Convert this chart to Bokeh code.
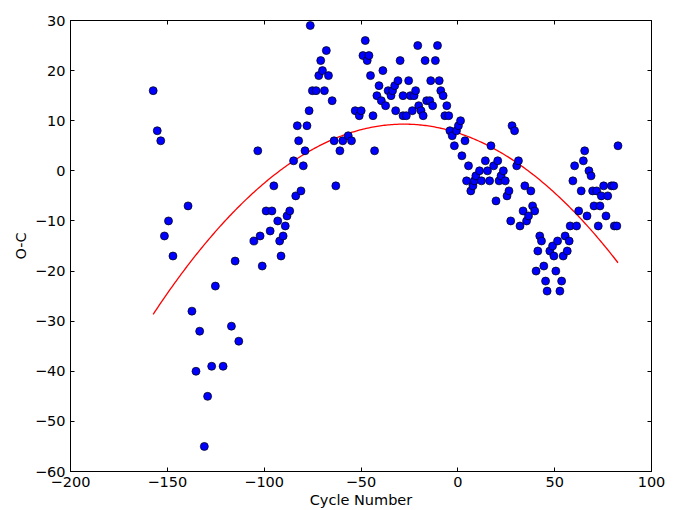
import numpy as np
from bokeh.plotting import figure
from bokeh.models import LinearAxis, Range1d, FixedTicker, CustomJSTickFormatter
from bokeh.embed import file_html
from bokeh.resources import INLINE

# ---- data ----
cycle = [-157.3, -155.2, -153.4, -151.5, -149.4, -147.1, -139.3, -137.3, -135.2, -133.3,
         -130.9, -129.2, -127.1, -125.2, -121.2, -116.9, -115.0, -113.1, -105.3, -103.3,
         -102.1, -101.0, -99.0, -96.9, -96.0, -95.0, -93.0, -92.0, -91.3, -90.2,
         -89.1, -88.2, -86.8, -84.8, -83.7, -82.9, -82.2, -81.0, -79.8, -78.9,
         -77.9, -76.8, -76.2, -75.1, -73.2, -71.8, -70.8, -69.9, -68.9, -67.9,
         -66.8, -64.9, -63.9, -63.0, -60.9, -59.4, -56.6, -54.9, -53.0, -50.9,
         -49.9, -49.0, -47.8, -46.8, -45.9, -45.1, -43.8, -43.0, -41.8, -40.7,
         -39.5, -38.7, -37.3, -36.0, -34.5, -33.7, -32.6, -32.1, -30.9, -29.8,
         -28.3, -28.3, -26.6, -25.4, -24.5, -23.5, -22.6, -21.8, -20.7, -20.2,
         -19.0, -17.9, -16.9, -16.1, -14.5, -14.0, -13.0, -11.6, -10.5, -9.6,
         -8.8, -7.6, -6.7, -5.7, -4.7, -4.1, -2.9, -1.8, -0.7, 0.3,
         1.4, 2.1, 3.7, 4.5, 5.5, 6.7, 7.8, 8.5, 9.3, 11.2,
         12.2, 14.2, 15.3, 16.4, 17.1, 18.5, 19.7, 20.6, 21.3, 22.3,
         23.5, 24.5, 25.4, 26.4, 27.3, 28.0, 29.3, 30.4, 31.3, 32.1,
         33.7, 34.6, 35.5, 36.5, 37.7, 38.6, 39.7, 40.4, 41.3, 42.3,
         43.2, 44.4, 45.3, 46.1, 47.5, 48.9, 49.6, 50.6, 51.5, 52.7,
         53.6, 54.4, 55.4, 56.5, 57.5, 58.0, 59.4, 60.3, 61.3, 62.4,
         63.7, 64.8, 65.5, 66.7, 67.7, 68.8, 69.6, 70.3, 71.7, 72.5,
         73.4, 74.1, 75.3, 76.5, 77.4, 79.3, 80.5, 80.8, 82.1, 82.7]

o_minus_c = [16, 8, 6, -13, -10, -17, -7, -28, -40, -32,
             -55, -45, -39, -23, -39, -31, -18, -34, -14, 4,
             -13, -19, -8, -12, -8, -3, -10, -14, -17, -13,
             -11, -9, -8, 2, -5, 9, 6, -4, 1, 4,
             9, 12, 29, 16, 16, 19, 22, 20, 16, 24,
             19, 14, 6, -3, 4, 6, 7, 6, 12, 11,
             12, 23, 26, 22, 23, 19, 11, 4, 15, 17,
             14, 20, 13, 16, 15, 16, 17, 12, 18, 22,
             15, 11, 11, 18, 15, 12, 15, 16, 25, 13,
             12, 11, 22, 14, 14, 18, 13, 22, 25, 18,
             16, 15, 11, 13, 11, 8, 7, 5, 8, 9,
             10, 3, 6, -2, 1, -4, -3, -2, -1, 0,
             -2, 2, 0, -2, 5, 1, -6, 2, -2, -1,
             0, -2, -5, -4, -10, 9, 8, 1, 2, -11,
             -8, -3, -10, -9, -4, -7, -8, -20, -16, -13,
             -14, -19, -22, -24, -16, -15, -17, -20, -14, -24,
             -22, -17, -13, -16, -14, -11, -2, 1, -11, -8,
             -4, 2, 4, -9, 0, -1, -4, -7, -4, -11,
             -7, -5, -3, -9, -5, -3, -3, -11, -11, 5]

x_ticks = [-200, -150, -100, -50, 0, 50, 100]
y_ticks = [-60, -50, -40, -30, -20, -10, 0, 10, 20, 30]

# quadratic fit of the data (red curve)
coef = np.polyfit(np.array(cycle), np.array(o_minus_c), 2)
fit_x = np.linspace(min(cycle), max(cycle), 300)
fit_y = np.polyval(coef, fit_x)

FONT = "DejaVu Sans"
FS = "14.5px"

p = figure(width=677, height=510, output_backend="svg", toolbar_location=None,
           x_range=Range1d(-200, 100), y_range=Range1d(-60, 30),
           min_border_left=70, min_border_right=26, min_border_top=20,
           min_border_bottom=39)
p.grid.visible = False
p.background_fill_color = "white"
p.border_fill_color = "white"
p.outline_line_color = "black"
p.outline_line_width = 1

fmt = CustomJSTickFormatter(code="return tick < 0 ? '\u2212' + Math.abs(tick) : String(tick);")


def style(ax, ticks, show_labels=True):
    ax.ticker = FixedTicker(ticks=ticks)
    ax.axis_line_color = "black"
    ax.axis_line_width = 1
    ax.major_tick_in = 4
    ax.major_tick_out = 0
    ax.major_tick_line_color = "black"
    ax.minor_tick_line_color = None
    ax.axis_label_text_font = FONT
    ax.axis_label_text_font_style = "normal"
    ax.axis_label_text_font_size = FS
    ax.axis_label_text_color = "black"
    if show_labels:
        ax.formatter = fmt
        ax.major_label_text_font = FONT
        ax.major_label_text_color = "black"
        ax.major_label_text_font_size = FS
        ax.major_label_standoff = 5
    else:
        ax.major_label_text_color = None
        ax.major_label_text_font_size = "0px"
        ax.major_label_standoff = 0


xa = p.xaxis[0]
style(xa, x_ticks)
xa.axis_label = "Cycle Number"
xa.axis_label_standoff = 2

ya = p.yaxis[0]
style(ya, y_ticks)
ya.axis_label = "O-C"
ya.axis_label_standoff = 3

top = LinearAxis()
style(top, x_ticks, show_labels=False)
p.add_layout(top, "above")
right = LinearAxis()
style(right, y_ticks, show_labels=False)
p.add_layout(right, "right")

p.line(fit_x, fit_y, line_color="#ff0000", line_width=1.3)
p.scatter(cycle, o_minus_c, marker="circle", size=8,
          fill_color="#0000ff", line_color="black", line_width=0.7)

open("out.html", "w").write(file_html(p, INLINE))
